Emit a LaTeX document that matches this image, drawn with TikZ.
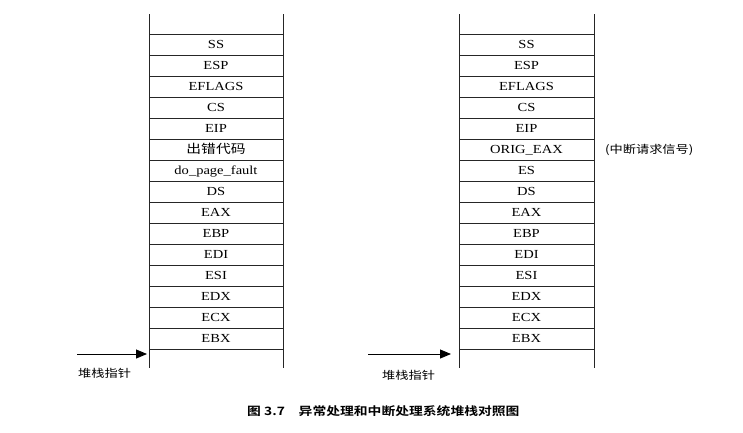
\documentclass[tikz,border=0pt]{standalone}
\usepackage{fontspec}
\setmainfont[FakeStretch=1.18]{Liberation Serif}
\newfontfamily\cjk[FakeStretch=1.2]{Noto Sans CJK SC}
\newfontfamily\cjkb[FakeStretch=1.2]{Noto Sans CJK SC Bold}
\usetikzlibrary{arrows.meta}
\begin{document}
\begin{tikzpicture}[x=1pt,y=-1pt,
  cell/.style={draw=black!85,line width=0.8pt,minimum height=21pt,inner sep=0pt,
    text height=9.2pt,text depth=1.8pt,
    font=\fontsize{12.3}{12.3}\selectfont,anchor=north},
  wall/.style={draw=black!85,line width=0.9pt},
  ptr/.style={draw=black,line width=0.9pt,-{Triangle[length=11pt,width=9pt]}},
  lbl/.style={font=\cjk\fontsize{11}{11}\selectfont,inner sep=0pt}]
\useasboundingbox (0,0) rectangle (743,432);
% left stack
\foreach \t [count=\i from 0] in {SS,ESP,EFLAGS,CS,EIP,{\cjk 出错代码},do\_page\_fault,DS,EAX,EBP,EDI,ESI,EDX,ECX,EBX}
  \node[cell,minimum width=134pt] (L\i) at (216,{34+21*\i}) {\t};
\coordinate (Ltl) at (149,14); \coordinate (Lbl) at (149,368);
\coordinate (Ltr) at (283,14); \coordinate (Lbr) at (283,368);
\draw[wall] (Ltl) -- (Lbl); \draw[wall] (Ltr) -- (Lbr);
% right stack
\foreach \t [count=\i from 0] in {SS,ESP,EFLAGS,CS,EIP,ORIG\_EAX,ES,DS,EAX,EBP,EDI,ESI,EDX,ECX,EBX}
  \node[cell,minimum width=135pt] (R\i) at (526.5,{34+21*\i}) {\t};
\coordinate (Rtl) at (459,14); \coordinate (Rbl) at (459,368);
\coordinate (Rtr) at (594,14); \coordinate (Rbr) at (594,368);
\draw[wall] (Rtl) -- (Rbl); \draw[wall] (Rtr) -- (Rbr);
% note
\node[lbl,anchor=west] (note) at (605,150) {(中断请求信号)};
% pointers
\coordinate (Lps) at (77,354); \coordinate (Lpe) at (147,354);
\coordinate (Rps) at (368,354); \coordinate (Rpe) at (451,354);
\draw[ptr] (Lps) -- (Lpe);
\draw[ptr] (Rps) -- (Rpe);
\node[lbl,anchor=west] (Lptr) at (78,373) {堆栈指针};
\node[lbl,anchor=west] (Rptr) at (382,375) {堆栈指针};
% caption
\node[font=\cjkb\fontsize{11.5}{11.5}\selectfont,inner sep=0pt,anchor=west] (cap) at (247,411) {图 3.7\hspace{1.2em}异常处理和中断处理系统堆栈对照图};
\end{tikzpicture}
\end{document}
